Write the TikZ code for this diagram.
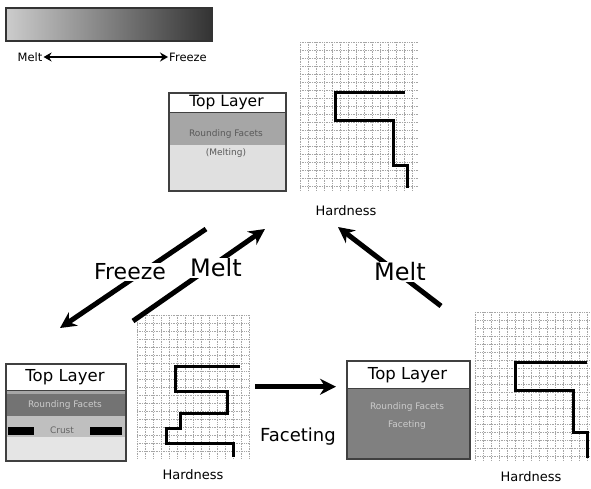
\documentclass[tikz,border=0pt]{standalone}
\usepackage{fontspec}
\setmainfont{DejaVu Sans}
\usetikzlibrary{arrows.meta}

\tikzset{
  fatarrow/.style={line width=5pt,-{Stealth[length=16pt,width=16pt]}},
  gridline/.style={gray!70,densely dotted,line width=0.7pt},
  hardline/.style={line width=3pt,line join=miter},
  layerbox/.style={draw=black!75,line width=1.5pt,rectangle,anchor=north west,inner sep=0pt},
}

\begin{document}
\begin{tikzpicture}[x=1pt,y=-1pt]
        \useasboundingbox (0,0) rectangle (591,488);
        %% Legend
        \shade[left color=black!20,right color=black!80,draw=black!80,line width=1.5pt] (6,8) rectangle (212,41);
        \node[font=\fontsize{11.5}{13}\selectfont,inner sep=1pt] (meltkey) at (30,57) {Melt};
        \node[font=\fontsize{11.5}{13}\selectfont,inner sep=1pt] (freezekey) at (188,57) {Freeze};
        \draw[line width=2.5pt,{Stealth[length=8pt,width=9pt]}-{Stealth[length=8pt,width=9pt]}] (meltkey) -- (freezekey);

        %% Top layer box (melting)
        \fill[black!35] (168,112) rectangle (285,145);
        \fill[black!12] (168,145) rectangle (285,190);
        \node[font=\fontsize{9}{10}\selectfont,text=black!65] (toptxt) at (226,134) {Rounding Facets};
        \node[font=\fontsize{9}{10}\selectfont,text=black!65] (topsub) at (226,153) {(Melting)};
        \draw[black!75,line width=1pt] (168,112) -- (285,112);
        \node[layerbox,minimum width=117,minimum height=98] (top) at (168,92) {};
        \node[font=\fontsize{15.5}{18}\selectfont] (tophead) at (226.5,102) {Top Layer};

        %% Top hardness grid
        \foreach \x in {300,308,...,418} \draw[gridline] (\x,42) -- (\x,190);
        \foreach \y in {42,50,...,190} \draw[gridline] (300,\y) -- (418,\y);
        \node[minimum width=118,minimum height=148,anchor=north west,inner sep=0pt] (topgrid) at (300,42) {};
        \draw[hardline] (405,92) -- (335,92) -- (335,120) -- (393,120) -- (393,165) -- (407,165) -- (407,188);
        \node[font=\fontsize{13}{15}\selectfont] (topgridlbl) at (346,211) {Hardness};

        %% Bottom left layer box (after freezing)
        \fill[black!35] (5,390) rectangle (125,394);
        \fill[black!55] (5,394) rectangle (125,416);
        \fill[black!25] (5,416) rectangle (125,437);
        \fill[black!10] (5,437) rectangle (125,460);
        \fill[black] (8,427) rectangle (34,435);
        \fill[black] (90,427) rectangle (122,435);
        \node[font=\fontsize{9}{10}\selectfont,text=black!20] (lefttxt) at (65,405) {Rounding Facets};
        \node[font=\fontsize{9}{10}\selectfont,text=black!60] (leftsub) at (62,430) {Crust};
        \draw[black!75,line width=1pt] (5,390) -- (125,390);
        \node[layerbox,minimum width=120,minimum height=97] (left) at (5,363) {};
        \node[font=\fontsize{16.5}{19}\selectfont] (lefthead) at (65,377) {Top Layer};

        %% Bottom left hardness grid
        \foreach \x in {137,145,...,249} \draw[gridline] (\x,315) -- (\x,458);
        \foreach \y in {315,323,...,458} \draw[gridline] (137,\y) -- (248,\y);
        \node[minimum width=111,minimum height=143,anchor=north west,inner sep=0pt] (leftgrid) at (137,315) {};
        \draw[hardline] (240,366) -- (175,366) -- (175,391) -- (227,391) -- (227,413) -- (180,413) -- (180,428) -- (166,428) -- (166,443) -- (233,443) -- (233,457);
        \node[font=\fontsize{13}{15}\selectfont] (leftgridlbl) at (193,475) {Hardness};

        %% Bottom right layer box (faceting)
        \fill[black!50] (346,388) rectangle (469,458);
        \node[font=\fontsize{9}{10}\selectfont,text=black!20] (righttxt) at (407,407) {Rounding Facets};
        \node[font=\fontsize{9}{10}\selectfont,text=black!20] (rightsub) at (407,425) {Faceting};
        \draw[black!75,line width=1pt] (346,388) -- (469,388);
        \node[layerbox,minimum width=123,minimum height=98] (right) at (346,360) {};
        \node[font=\fontsize{16.5}{18}\selectfont] (righthead) at (407.5,375) {Top Layer};

        %% Bottom right hardness grid
        \foreach \x in {475,483,...,590} \draw[gridline] (\x,312) -- (\x,460);
        \foreach \y in {312,320,...,460} \draw[gridline] (475,\y) -- (590,\y);
        \node[minimum width=115,minimum height=148,anchor=north west,inner sep=0pt] (rightgrid) at (475,312) {};
        \draw[hardline] (587,362) -- (515,362) -- (515,390) -- (573,390) -- (573,432) -- (587,432) -- (587,458);
        \node[font=\fontsize{13}{15}\selectfont] (rightgridlbl) at (531,477) {Hardness};

        %% Transitions
        \coordinate (fzA) at (206,229);
        \coordinate (fzB) at (60,328);
        \coordinate (mlA) at (133,321);
        \coordinate (mlB) at (265,229);
        \coordinate (mrA) at (441,306);
        \coordinate (mrB) at (338,227);
        \draw[fatarrow] (fzA) -- (fzB);
        \draw[fatarrow] (mlA) -- (mlB);
        \draw[fatarrow] (mrA) -- (mrB);
        \draw[fatarrow] (leftgrid.east) ++(7,0) coordinate (fcA) (fcA) -- ([xshift=-10pt]right.west |- fcA);
        \node[fill=white,inner sep=1pt,font=\fontsize{22}{24}\selectfont] (freezelbl) at (130,272) {Freeze};
        \node[fill=white,inner sep=1pt,font=\fontsize{24}{26}\selectfont] (meltlbl) at (216,268) {Melt};
        \node[fill=white,inner sep=1pt,font=\fontsize{24}{26}\selectfont] (meltrlbl) at (400,272) {Melt};
        \node[font=\fontsize{18}{20}\selectfont] (facetlbl) at (298,437) {Faceting};
    \end{tikzpicture}
\end{document}
